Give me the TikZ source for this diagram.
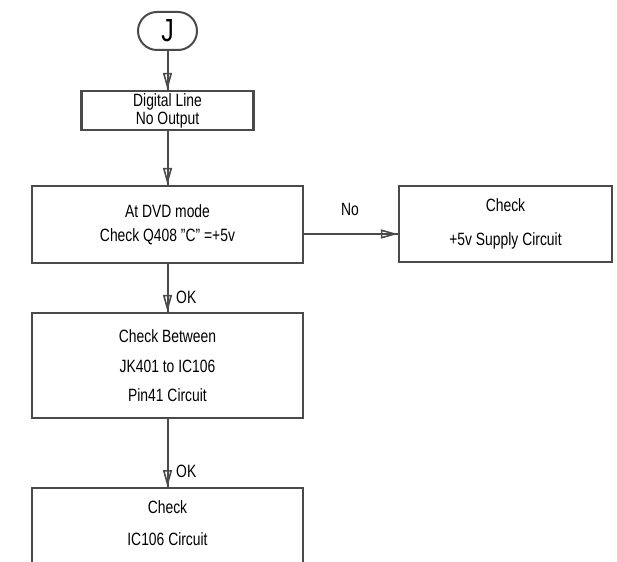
\documentclass[tikz,border=0pt]{standalone}
\usepackage{fontspec}
\setmainfont[FakeStretch=0.78]{Liberation Sans}
\usetikzlibrary{arrows.meta}
\definecolor{linegray}{HTML}{4A4A4A}
\tikzset{
  box/.style={draw=linegray, line width=2.4pt, rectangle, align=center, inner sep=0pt,
    font=\fontsize{17.8}{19}\selectfont},
  term/.style={draw=linegray, line width=2pt, rectangle, rounded corners=19pt, inner sep=0pt,
    minimum width=59pt, minimum height=38pt, font=\fontsize{32}{32}\selectfont},
  conn/.style={draw=linegray, line width=2pt},
  tip/.style={conn, -{Triangle[open, length=17pt, width=9pt, line width=1.6pt]}},
  lbl/.style={font=\fontsize{17.8}{19}\selectfont, inner sep=0pt}
}
\begin{document}
\begin{tikzpicture}[x=1pt, y=-1pt]
\useasboundingbox (0,0) rectangle (617,561);
\clip (0,0) rectangle (617,561);
\fill[white] (0,0) rectangle (617,561);
\node[term] (j) at (167.5,31) {J};
\node[box, minimum width=172pt, minimum height=39pt] (b1) at (167.5,110.5)
  {Digital Line\\[-1pt]No Output};
\node[box, minimum width=271pt, minimum height=77pt] (b2) at (167.5,224.5)
  {At DVD mode\\[5pt]Check Q408 {\char34}C{\char34} =+5v};
\node[box, minimum width=213pt, minimum height=76pt] (b3) at (505.5,224)
  {Check\\[15pt]+5v Supply Circuit};
\node[box, minimum width=271pt, minimum height=105pt] (b4) at (167.5,365.5)
  {Check Between\\[11pt]JK401 to IC106\\[10pt]Pin41 Circuit};
\node[box, minimum width=271pt, minimum height=100pt, anchor=north] (b5) at (167.5,487) {};
\node[lbl, align=center] (t5) at (167.5,523) {Check\\[13pt]IC106 Circuit};
\coordinate (b2r) at (b2.east |- 0,234);
\coordinate (b3l) at (b3.west |- 0,234);
% connectors
\draw[conn] (j.south) -- (b1.north);
\draw[tip] (j.south) -- (b1.north);
\draw[conn] (b1.south) -- (b2.north);
\draw[tip] (b1.south) -- (b2.north);
\draw[conn] (b2r) -- (b3l);
\draw[tip] (b2r) -- (b3l);
\draw[conn] (b2.south) -- (b4.north);
\draw[tip] (b2.south) -- (b4.north);
\draw[conn] (b4.south) -- (b5.north);
\draw[tip] (b4.south) -- (b5.north);
% labels
\node[lbl] (no) at (350,209) {No};
\node[lbl, anchor=west] (ok1) at (176,297) {OK};
\node[lbl, anchor=west] (ok2) at (176,471) {OK};
\end{tikzpicture}
\end{document}
